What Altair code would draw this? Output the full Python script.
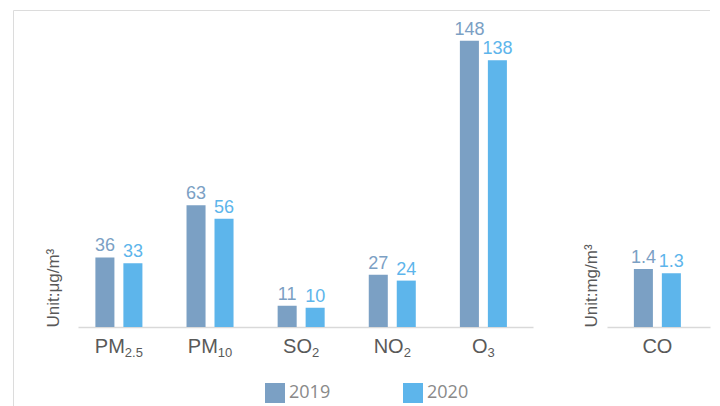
import altair as alt
import pandas as pd

# ---- data ----
pollutants = ["PM2.5", "PM10", "SO2", "NO2", "O3"]
label_main = ["PM", "PM", "SO", "NO", "O"]
label_sub = ["2.5", "10", "2", "2", "3"]
values_2019 = [36, 63, 11, 27, 148]
values_2020 = [33, 56, 10, 24, 138]
co_names = ["CO"]
co_main = ["CO"]
co_sub = [""]
co_2019 = [1.4]
co_2020 = [1.3]
years = ["2019", "2020"]
colors = ["#7BA0C4", "#5DB5EB"]

FONT = "Liberation Sans"
GREY = "#595959"
MAIN_FS = 20
SUB_FS = 13
# Arial / Liberation Sans advance widths (per 1000 em) for label layout
ADV = {"P": 667, "M": 833, "S": 667, "O": 778, "N": 722, "C": 722, ".": 278}
for d in "0123456789":
    ADV[d] = 556


def text_width(s, fs):
    return sum(ADV.get(c, 556) for c in s) * fs / 1000.0


def long_table(names, v19, v20):
    rows = []
    for n, a, b in zip(names, v19, v20):
        rows.append({"pollutant": n, "year": "2019", "value": a, "label": f"{a:g}"})
        rows.append({"pollutant": n, "year": "2020", "value": b, "label": f"{b:g}"})
    return pd.DataFrame(rows)


df_main = long_table(pollutants, values_2019, values_2020)
df_co = long_table(co_names, co_2019, co_2020)

color_scale = alt.Scale(domain=years, range=colors)
H = 290


def panel(df, order, mains, subs, ymax, title, xscale, title_pad, width, frame=False):
    x = alt.X(
        "pollutant:N",
        sort=order,
        scale=xscale,
        axis=alt.Axis(
            title=None, labels=False, ticks=False, domainColor="#d9d9d9",
            domainWidth=1.5, grid=False,
        ),
    )
    xo = alt.XOffset("year:N", sort=years, scale=alt.Scale(paddingInner=0.32, paddingOuter=0))
    y = alt.Y(
        "value:Q",
        scale=alt.Scale(domain=[0, ymax], nice=False),
        axis=alt.Axis(
            title=title, labels=False, ticks=False, domain=False, grid=False,
            titleAnchor="start", titlePadding=title_pad, titleFontSize=17,
            titleColor=GREY, titleFont=FONT, titleFontWeight="normal",
        ),
    )
    bars = alt.Chart(df).mark_bar().encode(
        x=x, xOffset=xo, y=y,
        color=alt.Color(
            "year:N", scale=color_scale,
            legend=alt.Legend(
                title=None, orient="none", legendX=187, legendY=346,
                direction="horizontal", symbolType="square", symbolSize=400,
                symbolStrokeWidth=0, labelFont="Open Sans", labelFontSize=18,
                labelColor="#898989", labelOffset=4, columnPadding=72, padding=0,
            ),
        ),
    )
    text = alt.Chart(df).mark_text(
        baseline="bottom", dy=-2, font=FONT, fontSize=18
    ).encode(
        x=x, xOffset=xo, y=y, text="label:N",
        color=alt.Color("year:N", scale=color_scale, legend=None),
    )
    layers = []
    if frame:
        one = alt.Data(values=[{"k": 1}])
        top = alt.Chart(one).mark_rule(color="#dcdcdc", strokeWidth=1).encode(
            x=alt.value(-64.5), x2=alt.value(632), y=alt.value(-26.5)
        )
        left = alt.Chart(one).mark_rule(color="#dcdcdc", strokeWidth=1).encode(
            x=alt.value(-64.5), y=alt.value(-26.5), y2=alt.value(369)
        )
        layers += [top, left]
    layers += [bars, text]

    # category labels with real subscripts
    lab_df = pd.DataFrame({"pollutant": order, "main": mains, "sub": subs})
    for name, m, s in zip(order, mains, subs):
        wm = text_width(m, MAIN_FS)
        ws = text_width(s, SUB_FS)
        start = -(wm + ws) / 2.0
        base = alt.Chart(lab_df).transform_filter(alt.datum.pollutant == name)
        layers.append(
            base.mark_text(
                align="left", baseline="alphabetic", dx=start,
                font=FONT, fontSize=MAIN_FS, color=GREY,
            ).encode(x=x, y=alt.value(H + 26), text="main:N")
        )
        if s:
            layers.append(
                base.mark_text(
                    align="left", baseline="alphabetic", dx=start + wm,
                    font=FONT, fontSize=SUB_FS, color=GREY,
                ).encode(x=x, y=alt.value(H + 30), text="sub:N")
            )
    return alt.layer(*layers).properties(width=width, height=H)


main = panel(
    df_main, pollutants, label_main, label_sub, 150, "Unit:μg/m³",
    alt.Scale(paddingInner=0.484, paddingOuter=0.2386, align=0.40),
    16, 455, frame=True,
)
co = panel(
    df_co, co_names, co_main, co_sub, 7, "Unit:mg/m³",
    alt.Scale(paddingInner=0, paddingOuter=0.596, align=0.48),
    7, 103,
)

chart = (
    alt.hconcat(main, co, spacing=74, bounds="flush")
    .resolve_scale(x="independent", y="independent", xOffset="independent", color="shared")
    .resolve_legend(color="shared")
    .configure_view(stroke=None)
    .properties(padding={"left": 5, "top": 2, "right": 0, "bottom": 0})
)

chart.save("out.html", embed_options={"renderer": "svg", "actions": False})
